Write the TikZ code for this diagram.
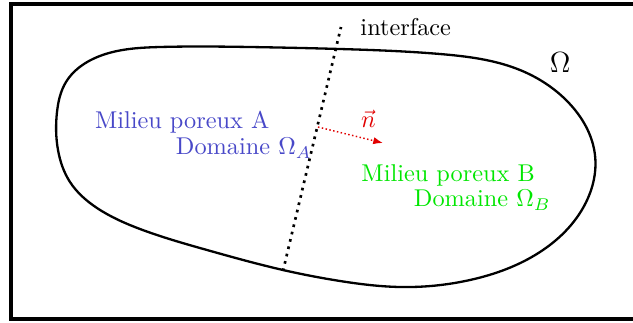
\documentclass[tikz,border=0pt]{standalone}
\usetikzlibrary{arrows.meta,hobby}
\definecolor{ablue}{RGB}{72,72,200}
\definecolor{bgreen}{RGB}{0,230,0}
\definecolor{nred}{RGB}{225,0,0}
\tikzset{lbl/.style={anchor=base west,inner sep=0pt,outer sep=0pt}}
\begin{document}
\begin{tikzpicture}[x=0.4115pt,y=-0.4115pt]
\useasboundingbox (0,0) rectangle (633,322);
% frame
\draw[line width=1.25pt] (11,4) rectangle (660,319);
% blob
\draw[line width=0.95pt,use Hobby shortcut,closed=true]
 (340,49) .. (440,54) .. (520,70) .. (568,102) .. (595,155)
 .. (583,208) .. (540,252) .. (470,280) .. (400,287)
 .. (340,281) .. (283,270) .. (207,250) .. (140,229) .. (97,208)
 .. (70,182) .. (58,150) .. (57,112) .. (66,82) .. (95,58) .. (160,47) .. (250,47);
% interface
\coordinate (ib) at (283,271);
\coordinate (it) at (341,27);
\draw[line width=1.1pt,dotted] (ib) -- (it);
\coordinate (ns) at (318,127);
\coordinate (ne) at (383,143);
\draw[nred,densely dotted,line width=0.6pt,-{Latex[length=4pt,width=3pt]}] (ns) -- (ne);
\node[lbl] (tint) at (360.5,35) {interface};
\node[lbl,font=\large] (tom) at (550,72) {$\Omega$};
\node[lbl,text=nred] (tn) at (361,127.5) {$\vec{n}$};
\node[lbl,text=ablue] (ta1) at (95,128.5) {Milieu poreux A};
\node[lbl,text=ablue] (ta2) at (176,154.5) {Domaine $\Omega_A$};
\node[lbl,text=bgreen] (tb1) at (361.5,181.5) {Milieu poreux B};
\node[lbl,text=bgreen] (tb2) at (414,206.5) {Domaine $\Omega_B$};
\end{tikzpicture}
\end{document}
